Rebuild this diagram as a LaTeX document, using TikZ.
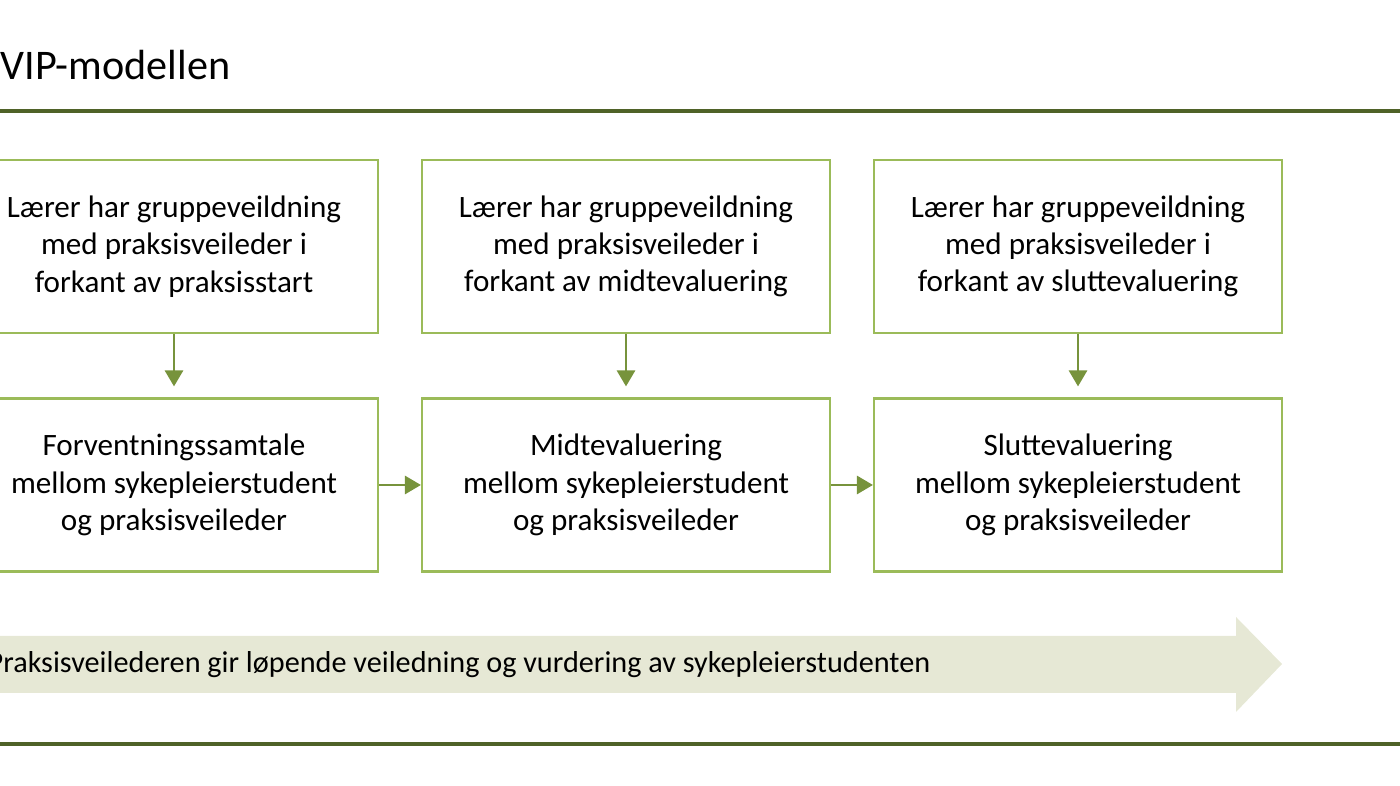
\documentclass[tikz,border=0pt]{standalone}
\usepackage{fontspec}
\setmainfont{Carlito}
\usetikzlibrary{positioning, arrows.meta}
\definecolor{boxgreen}{HTML}{9BBB59}
\definecolor{arrgreen}{HTML}{77933C}
\definecolor{rulegreen}{HTML}{4F6228}
\definecolor{bandfill}{HTML}{E6E8D5}
\begin{document}
\begin{tikzpicture}[every node/.style={font=\fontsize{8.85pt}{10.6pt}\selectfont},
    stage/.style={draw=boxgreen, line width=0.6pt, minimum width=4.08cm, minimum height=1.73cm, align=center, inner sep=0pt},
    flow/.style={-{Triangle[length=1.6mm, width=1.8mm]}, draw=arrgreen, line width=0.8pt}]
    \useasboundingbox (0,0) rectangle (14,7.86);
    \clip (0,0) rectangle (14,7.86);
    % Title and rules
    \node (title) [anchor=west, inner sep=0pt, font=\fontsize{12pt}{14pt}\selectfont] at (0.0,7.21) {VIP-modellen};
    \draw[rulegreen, line width=1.2pt] (0,6.75) -- (14,6.75);
    \draw[rulegreen, line width=1.2pt] (0,0.42) -- (14,0.42);

    % Upper row
    \node (T1) [stage] at (1.74,5.395) {Lærer har gruppeveildning\\med praksisveileder i\\forkant av praksisstart};
    \node (T2) [stage] at (6.26,5.395) {Lærer har gruppeveildning\\med praksisveileder i\\forkant av midtevaluering};
    \node (T3) [stage] at (10.78,5.395) {Lærer har gruppeveildning\\med praksisveileder i\\forkant av sluttevaluering};

    % Lower row
    \node (B1) [stage] at (1.74,3.01) {Forventningssamtale\\mellom sykepleierstudent\\og praksisveileder};
    \node (B2) [stage] at (6.26,3.01) {Midtevaluering\\mellom sykepleierstudent\\og praksisveileder};
    \node (B3) [stage] at (10.78,3.01) {Sluttevaluering\\mellom sykepleierstudent\\og praksisveileder};

    % Connectors
    \draw[flow] (T1.south) -- ([yshift=1.1mm]B1.north);
    \draw[flow] (T2.south) -- ([yshift=1.1mm]B2.north);
    \draw[flow] (T3.south) -- ([yshift=1.1mm]B3.north);
    \draw[flow] (B1.east) -- (B2.west);
    \draw[flow] (B2.east) -- (B3.west);

    % Band arrow
    \fill[bandfill] (-0.5,1.5) -- (12.36,1.5) -- (12.36,1.69) -- (12.82,1.22) -- (12.36,0.74) -- (12.36,0.93) -- (-0.5,0.93) -- cycle;
    \node (band) [anchor=west, inner sep=0pt, font=\fontsize{8.6pt}{10pt}\selectfont] at (-0.13,1.215) {Praksisveilederen gir løpende veiledning og vurdering av sykepleierstudenten};
\end{tikzpicture}
\end{document}
